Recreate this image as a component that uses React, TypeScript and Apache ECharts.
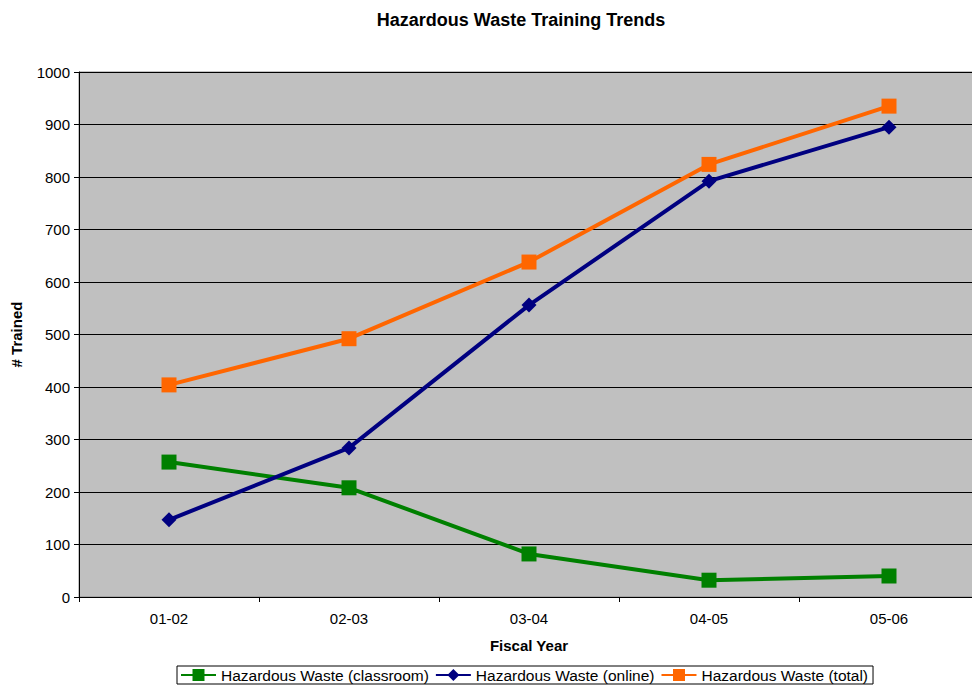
import React, { useEffect, useRef } from "react";
import * as echarts from "echarts";

const categories = ["01-02", "02-03", "03-04", "04-05", "05-06"];
const classroom = [257, 208, 82, 32, 40];
const online = [147, 284, 556, 792, 895];
const total = [404, 492, 638, 824, 935];
const seriesNames = [
  "Hazardous Waste (classroom)",
  "Hazardous Waste (online)",
  "Hazardous Waste (total)",
];

const FONT = "Liberation Sans, Arial, sans-serif";

export default function App() {
  const ref = useRef<HTMLDivElement>(null);
  useEffect(() => {
    if (!ref.current) return;
    const chart = echarts.init(ref.current, undefined, { renderer: "svg" });
    chart.setOption({
      animation: false,
      backgroundColor: "#ffffff",
      textStyle: { fontFamily: FONT },
      title: {
        text: "Hazardous Waste Training Trends",
        left: 516,
        textAlign: "center",
        top: 6,
        textStyle: { fontSize: 18, fontWeight: "bold", color: "#000", fontFamily: FONT },
      },
      legend: {
        left: 177,
        top: 666,
        orient: "horizontal",
        itemWidth: 35,
        itemHeight: 15,
        itemGap: 6,
        padding: [1, 5, 1, 3],
        borderColor: "#000",
        borderWidth: 1,
        textStyle: { fontSize: 15.5, color: "#000", fontFamily: FONT },
        data: seriesNames,
      },
      grid: {
        left: 79,
        top: 72,
        width: 900,
        height: 525,
        show: true,
        backgroundColor: "#c0c0c0",
        borderColor: "#888888",
        borderWidth: 1,
      },
      xAxis: {
        type: "category",
        data: categories,
        boundaryGap: true,
        name: "Fiscal Year",
        nameLocation: "middle",
        nameGap: 41,
        nameTextStyle: { fontSize: 15, fontWeight: "bold", color: "#000", fontFamily: FONT },
        axisLine: { show: true, lineStyle: { color: "#000", width: 1 } },
        axisTick: { show: true, length: 5, lineStyle: { color: "#000" } },
        axisLabel: { fontSize: 15, color: "#000", margin: 14, fontFamily: FONT },
        splitLine: { show: false },
      },
      yAxis: {
        type: "value",
        min: 0,
        max: 1000,
        interval: 100,
        name: "# Trained",
        nameLocation: "middle",
        nameGap: 55,
        nameRotate: 90,
        nameTextStyle: { fontSize: 15, fontWeight: "bold", color: "#000", fontFamily: FONT },
        axisLine: { show: true, lineStyle: { color: "#000", width: 1 } },
        axisTick: { show: true, length: 5, lineStyle: { color: "#000" } },
        axisLabel: {
          fontSize: 15,
          color: "#000",
          margin: 9,
          fontFamily: FONT,
          formatter: (v: number) => String(v),
        },
        splitLine: { show: true, lineStyle: { color: "#000", width: 1 } },
      },
      series: [
        {
          name: seriesNames[0],
          type: "line",
          data: classroom,
          symbol: "rect",
          symbolSize: 15,
          lineStyle: { color: "#008000", width: 4 },
          itemStyle: { color: "#008000" },
        },
        {
          name: seriesNames[1],
          type: "line",
          data: online,
          symbol: "diamond",
          symbolSize: 15,
          lineStyle: { color: "#000080", width: 4 },
          itemStyle: { color: "#000080" },
        },
        {
          name: seriesNames[2],
          type: "line",
          data: total,
          symbol: "rect",
          symbolSize: 15,
          lineStyle: { color: "#ff6600", width: 4 },
          itemStyle: { color: "#ff6600" },
        },
      ],
    });
    return () => chart.dispose();
  }, []);
  return (
    <div
      ref={ref}
      style={{ position: "fixed", left: 0, top: 0, width: 990, height: 692 }}
    />
  );
}
